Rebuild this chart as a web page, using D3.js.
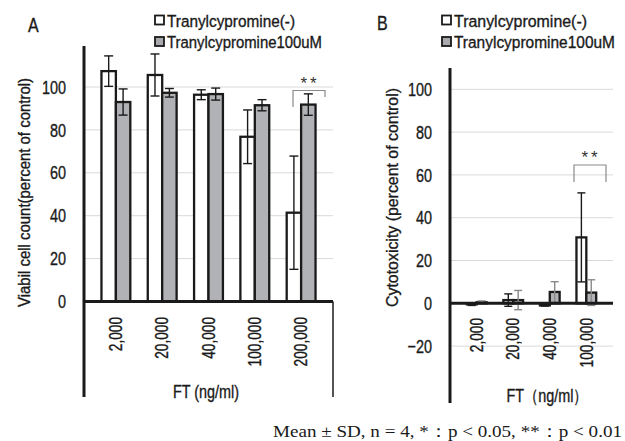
<!DOCTYPE html>
<html><head><meta charset="utf-8">
<script src="https://cdn.jsdelivr.net/npm/d3@7"></script>
<style>body{margin:0;background:#fff}svg{display:block}</style>
</head><body>
<svg id="c" width="625" height="441"></svg>
<script>
// ---- data ----
const seriesNames = ["Tranylcypromine(-)", "Tranylcypromine100uM"];
const catsA = ["2,000", "20,000", "40,000", "100,000", "200,000"];
const meanA_minus = [107.4, 105.6, 96.4, 76.8, 41.4];
const sdA_minus   = [7.1, 9.8, 2.3, 12.5, 26.4];
const meanA_tc    = [93.0, 97.3, 96.7, 91.5, 91.8];
const sdA_tc      = [6.1, 2.0, 2.8, 2.6, 5.0];
const catsB = ["2,000", "20,000", "40,000", "100,000"];
const meanB_minus = [-0.5, 1.5, -1.0, 30.8];
const sdB_minus   = [0.5, 2.9, 0.3, 20.8];
const meanB_tc    = [0.5, 1.5, 5.3, 5.0];
const sdB_tc      = [0.6, 4.5, 4.8, 6.0];
const ticksA = [0, 20, 40, 60, 80, 100];
const ticksB = [-20, 0, 20, 40, 60, 80, 100];

const FONT = "'Liberation Sans', Arial, sans-serif";
const SX = 0.76; // horizontal compression to mimic narrow gothic font
const INK = "#1a1a1a";
const svg = d3.select("#c");

function heavy(sel) {
  return sel.attr("fill", INK).attr("stroke", INK).attr("stroke-width", 0.35);
}

function narrowText(g, x, y, str, o) {
  const t = g.append("text")
    .attr("transform", `translate(${x},${y}) rotate(${o.rot || 0}) scale(${o.sx || SX},1)`)
    .attr("text-anchor", o.anchor || "start")
    .attr("dominant-baseline", "central")
    .style("font-family", FONT).style("font-size", o.size + "px")
    .text(str);
  heavy(t);
  if (o.len) t.attr("textLength", o.len / (o.sx || SX)).attr("lengthAdjust", "spacingAndGlyphs");
  return t;
}

function panel(cfg) {
  const g = svg.append("g");
  const y = d3.scaleLinear().domain([0, 100]).range([cfg.y0, cfg.y100]);
  const x = d3.scaleBand().domain(cfg.cats).range([cfg.xl, cfg.xr]).padding(cfg.pad);
  const x1 = d3.scaleBand().domain(seriesNames).range([0, x.bandwidth()]);

  // gridlines
  g.append("g").selectAll("line").data(cfg.ticks.filter(d => d !== 0)).join("line")
    .attr("x1", cfg.xl).attr("x2", cfg.xr)
    .attr("y1", d => y(d)).attr("y2", d => y(d))
    .attr("stroke", "#d9d9d9").attr("stroke-width", 1);

  // y axis via d3
  const ya = g.append("g").attr("transform", `translate(${cfg.xl},0)`)
    .call(d3.axisLeft(y).tickValues(cfg.ticks).tickSize(0).tickPadding(0).tickFormat(d3.format("d")));
  ya.select(".domain").remove();
  ya.attr("font-size", null).attr("font-family", null);
  heavy(ya.selectAll("text").attr("x", null).attr("dy", null)
    .attr("dominant-baseline", "central")
    .attr("transform", `translate(${cfg.tickX - cfg.xl},0) scale(${SX},1)`)
    .style("font-family", FONT).style("font-size", "19px"));

  const data = cfg.cats.map((c, i) => ({
    c, vals: [
      { s: seriesNames[0], m: cfg.m1[i], sd: cfg.s1[i], fill: "#ffffff", ec: INK, ew: cfg.ew1 },
      { s: seriesNames[1], m: cfg.m2[i], sd: cfg.s2[i], fill: "#b1b2b5", ec: cfg.ec2, ew: 1.4 }
    ]
  }));

  const grp = g.append("g").selectAll("g").data(data).join("g")
    .attr("transform", d => `translate(${x(d.c)},0)`);
  grp.selectAll("rect").data(d => d.vals).join("rect")
    .attr("x", d => x1(d.s)).attr("width", x1.bandwidth())
    .attr("y", d => Math.min(y(d.m), y(0)))
    .attr("height", d => Math.abs(y(d.m) - y(0)))
    .attr("fill", d => d.fill).attr("stroke", INK).attr("stroke-width", 2.3);

  // error bars
  const eb = grp.selectAll("g.eb").data(d => d.vals).join("g").attr("class", "eb")
    .attr("stroke", d => d.ec).attr("stroke-width", d => d.ew);
  const cx = d => x1(d.s) + x1.bandwidth() / 2;
  const cw = cfg.cap;
  eb.append("line").attr("x1", cx).attr("x2", cx)
    .attr("y1", d => y(d.m + d.sd)).attr("y2", d => y(d.m - d.sd));
  eb.append("line").attr("x1", d => cx(d) - cw).attr("x2", d => cx(d) + cw)
    .attr("y1", d => y(d.m + d.sd)).attr("y2", d => y(d.m + d.sd));
  eb.append("line").attr("x1", d => cx(d) - cw).attr("x2", d => cx(d) + cw)
    .attr("y1", d => y(d.m - d.sd)).attr("y2", d => y(d.m - d.sd));

  // baseline (0) and axes frame
  g.append("line").attr("x1", cfg.xl).attr("x2", cfg.xr).attr("y1", y(0)).attr("y2", y(0))
    .attr("stroke", INK).attr("stroke-width", 3);
  g.append("line").attr("x1", cfg.xl).attr("x2", cfg.xl).attr("y1", cfg.axTop).attr("y2", cfg.axBot)
    .attr("stroke", INK).attr("stroke-width", 3);
  if (cfg.rightLine) g.append("line").attr("x1", cfg.xr).attr("x2", cfg.xr).attr("y1", y(0)).attr("y2", cfg.axBot)
    .attr("stroke", INK).attr("stroke-width", 1.5);

  // x tick labels via d3 axis
  const xa = g.append("g").attr("transform", `translate(0,${cfg.labTop})`)
    .call(d3.axisBottom(x).tickSize(0).tickPadding(0));
  xa.select(".domain").remove();
  xa.attr("font-size", null).attr("font-family", null);
  heavy(xa.selectAll("text").attr("y", null).attr("dy", null)
    .attr("text-anchor", "end").attr("dominant-baseline", "central")
    .attr("transform", `rotate(-90) scale(${SX},1)`)
    .style("font-family", FONT).style("font-size", "18px"));

  // bracket
  const b = cfg.br;
  g.append("path").attr("d", `M${b.x1},${b.yl}V${b.yt}H${b.x2}V${b.yr}`)
    .attr("fill", "none").attr("stroke", "#8a8a8a").attr("stroke-width", 1.2);
  g.append("text").attr("x", (b.x1 + b.x2) / 2 + 1).attr("y", b.yt - 2)
    .attr("text-anchor", "middle").style("font-family", FONT).style("font-size", "17px")
    .style("letter-spacing", "3px").attr("fill", "#333").text("**");

  // titles
  narrowText(g, cfg.panelX, cfg.panelY, cfg.panel, { size: 20, sx: 0.8 });
  narrowText(g, cfg.ytX, cfg.ytY, cfg.ytitle, { size: 16, rot: -90, anchor: "middle", len: cfg.ytLen });
  narrowText(g, cfg.xtX, cfg.xtY, cfg.xtitle, { size: 18, anchor: "middle", sx: 0.8 });

  // legend
  seriesNames.forEach((s, i) => {
    const ly = cfg.legY + i * 21.5;
    g.append("rect").attr("x", cfg.legX).attr("y", ly - 4.5).attr("width", 9).attr("height", 9)
      .attr("fill", i ? "#a9aaad" : "#fff").attr("stroke", INK).attr("stroke-width", 1.8);
    narrowText(g, cfg.legX + 12, ly + 0.5, s, { size: 17, len: i ? cfg.legLen2 : cfg.legLen1 });
  });
}

panel({
  cats: catsA, m1: meanA_minus, s1: sdA_minus, m2: meanA_tc, s2: sdA_tc, ticks: ticksA,
  y0: 301.5, y100: 87, xl: 84, xr: 333, pad: 0.377, cap: 4.5, ew1: 1.4, ec2: INK,
  axTop: 46, axBot: 397, rightLine: true, tickX: 66, labTop: 317,
  br: { x1: 293, x2: 325, yt: 90.5, yl: 107, yr: 97 },
  panel: "A", panelX: 28, panelY: 25,
  ytitle: "Viabil cell count(percent of control)", ytX: 24, ytY: 192.5, ytLen: 229,
  xtitle: "FT (ng/ml)", xtX: 206, xtY: 391,
  legX: 155, legY: 20, legLen1: 128, legLen2: 155
});

panel({
  cats: catsB, m1: meanB_minus, s1: sdB_minus, m2: meanB_tc, s2: sdB_tc, ticks: ticksB,
  y0: 303.3, y100: 89.3, xl: 450, xr: 613, pad: 0.46, cap: 4, ew1: 1.4, ec2: "#8a8a8a",
  axTop: 68, axBot: 403, rightLine: false, tickX: 432, labTop: 318,
  br: { x1: 574, x2: 606, yt: 165, yl: 182, yr: 182 },
  panel: "B", panelX: 377, panelY: 23,
  ytitle: "Cytotoxicity (percent of control)", ytX: 392, ytY: 197.5, ytLen: 219,
  xtitle: "FT（ng/ml）", xtX: 547, xtY: 395,
  legX: 442, legY: 20, legLen1: 133, legLen2: 161
});

// footnote
svg.append("text").attr("x", 622).attr("y", 437).attr("text-anchor", "end")
  .style("font-family", "'Liberation Serif', 'Times New Roman', serif").style("font-size", "17px")
  .attr("fill", INK).attr("textLength", 349).attr("lengthAdjust", "spacingAndGlyphs")
  .text("Mean ± SD, n = 4, *：p < 0.05, **：p < 0.01");
</script>
</body></html>
